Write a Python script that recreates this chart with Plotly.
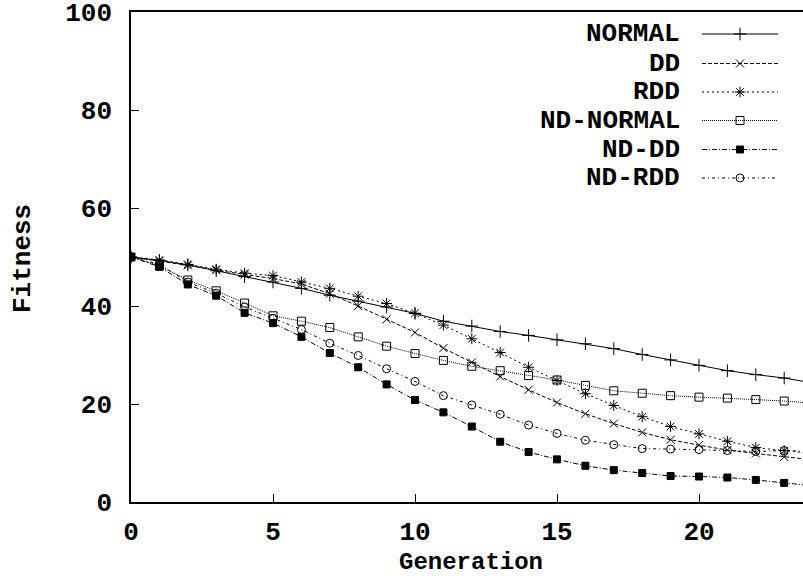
import plotly.graph_objects as go

generations = list(range(25))
normal = [50, 49.3, 48.4, 47.2, 46.0, 44.9, 43.6, 42.2, 41.0, 39.8, 38.5, 36.9, 35.9, 34.8, 34.0, 33.1, 32.3, 31.3, 30.1, 29.0, 27.9, 26.8, 26.0, 25.3, 24.3]
dd = [50, 49.2, 48.3, 47.3, 46.4, 45.6, 44.5, 42.5, 40.0, 37.3, 34.6, 31.4, 28.5, 25.6, 22.9, 20.3, 18.0, 16.0, 14.2, 12.7, 11.6, 10.6, 9.9, 9.2, 8.6]
rdd = [50, 49.4, 48.5, 47.5, 46.7, 46.2, 44.9, 43.6, 42.0, 40.5, 38.5, 36.1, 33.3, 30.5, 27.5, 24.8, 22.1, 19.7, 17.4, 15.4, 13.9, 12.4, 11.1, 10.5, 9.9]
nd_normal = [50, 48.2, 45.3, 43.1, 40.6, 38.0, 36.9, 35.6, 33.7, 31.8, 30.3, 28.9, 27.7, 26.8, 25.8, 24.9, 23.8, 22.7, 22.2, 21.7, 21.4, 21.2, 20.9, 20.6, 20.2]
nd_dd = [50, 48.0, 44.4, 42.1, 38.6, 36.5, 33.7, 30.4, 27.5, 24.0, 20.8, 18.3, 15.4, 12.3, 10.2, 8.7, 7.4, 6.5, 5.9, 5.3, 5.2, 5.0, 4.5, 3.9, 3.3]
nd_rdd = [50, 48.5, 44.9, 42.6, 39.8, 37.5, 35.2, 32.4, 29.9, 27.2, 24.6, 21.7, 19.8, 17.9, 15.7, 14.0, 12.6, 11.7, 10.9, 10.8, 10.7, 10.5, 10.3, 10.5, 10.3]

names = ["NORMAL", "DD", "RDD", "ND-NORMAL", "ND-DD", "ND-RDD"]
series = [normal, dd, rdd, nd_normal, nd_dd, nd_rdd]
dashes = ["solid", "4px,2px", "2px,3px", "1px,1px", "5px,2px,1px,2px", "3px,3px,1px,3px"]
symbols = ["cross-thin-open", "x-thin-open", "asterisk-open", "square-open", "square", "circle-open"]
msizes = [9, 8, 9, 8, 7, 8]

FONT = "Liberation Mono"
FS = 26
TF = dict(family=FONT, size=FS, color="black", weight="bold")
TITLEF = dict(family=FONT, size=24, color="black", weight="bold")

fig = go.Figure()
for name, ys, dash, sym, ms in zip(names, series, dashes, symbols, msizes):
    fig.add_trace(go.Scatter(
        x=generations, y=ys, mode="lines+markers", name=name, showlegend=False,
        line=dict(color="black", width=1, dash=dash),
        marker=dict(symbol=sym, size=ms, color="black", line=dict(color="black", width=1)),
        cliponaxis=True,
    ))

# Custom legend (text right-aligned, sample on the right), in pixel coordinates of an overlay axis
legend_rows = [34, 63.5, 92, 120.5, 149.5, 178]
for name, dash, sym, ms, yr in zip(names, dashes, symbols, msizes, legend_rows):
    fig.add_trace(go.Scatter(
        x=[702, 778], y=[yr, yr], mode="lines", xaxis="x2", yaxis="y2", showlegend=False,
        line=dict(color="black", width=1, dash=dash), hoverinfo="skip"))
    fig.add_trace(go.Scatter(
        x=[740], y=[yr], mode="markers", xaxis="x2", yaxis="y2", showlegend=False,
        marker=dict(symbol=sym, size=ms, color="black", line=dict(color="black", width=1)),
        hoverinfo="skip"))
    fig.add_annotation(x=682, y=yr, xref="x2", yref="y2", text=name, showarrow=False,
                       xanchor="right", yanchor="middle", font=TF)

# Axis titles
fig.add_annotation(x=(471 - 131) / 672, y=(502 - 562) / 490, xref="paper", yref="paper",
                   text="Generation", showarrow=False, xanchor="center", yanchor="middle",
                   font=TITLEF, borderpad=0)
fig.add_annotation(x=(23 - 131) / 672, y=(502 - 258) / 490, xref="paper", yref="paper",
                   text="Fitness", showarrow=False, textangle=-90,
                   xanchor="center", yanchor="middle", font=TF)

fig.update_layout(
    width=803, height=576,
    margin=dict(l=131, r=0, t=12, b=74),
    paper_bgcolor="white", plot_bgcolor="white",
    showlegend=False,
    font=TF,
    xaxis=dict(range=[0, 672 / 28.4], tickmode="array", tickvals=[0, 5, 10, 15, 20],
               ticks="inside", ticklen=8, tickwidth=1, tickcolor="black",
               showline=True, linecolor="black", linewidth=1.5, mirror=True,
               showgrid=False, zeroline=False, ticklabelstandoff=5,
               ticklabeloverflow="allow", tickfont=TF),
    yaxis=dict(range=[0, 100], tickmode="array", tickvals=[0, 20, 40, 60, 80, 100],
               ticks="inside", ticklen=8, tickwidth=1, tickcolor="black",
               showline=True, linecolor="black", linewidth=1.5, mirror=False,
               showgrid=False, zeroline=False, ticklabelstandoff=12,
               ticklabeloverflow="allow", tickfont=TF),
    xaxis2=dict(overlaying="x", range=[131, 803], visible=False, domain=[0, 1]),
    yaxis2=dict(overlaying="y", range=[502, 12], visible=False, domain=[0, 1]),
)

fig.write_html("out.html")
